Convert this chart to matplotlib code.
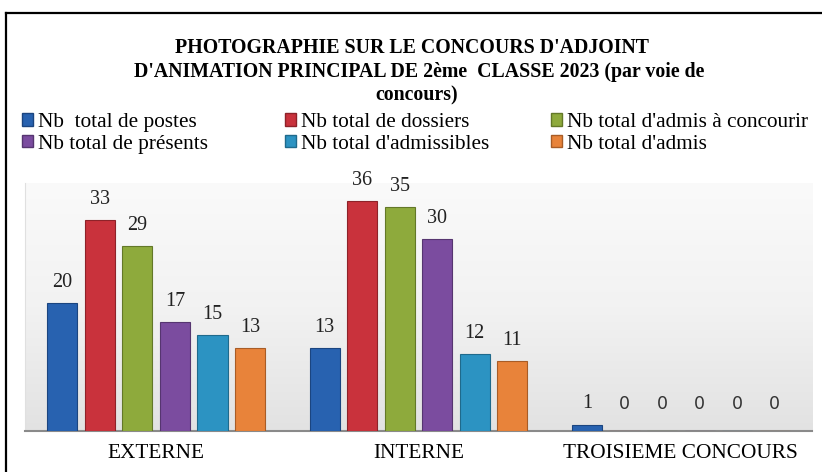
import numpy as np
import matplotlib.pyplot as plt
from matplotlib.lines import Line2D
from matplotlib.patches import Patch
from matplotlib.colors import LinearSegmentedColormap

categories = ['EXTERNE', 'INTERNE', 'TROISIEME CONCOURS']
series = ["Nb  total de postes", "Nb total de dossiers", "Nb total d'admis à concourir",
          "Nb total de présents", "Nb total d'admissibles", "Nb total d'admis"]
postes = [20, 13, 1]
dossiers = [33, 36, 0]
admis_concourir = [29, 35, 0]
presents = [17, 30, 0]
admissibles = [15, 12, 0]
admis = [13, 11, 0]
values = [postes, dossiers, admis_concourir, presents, admissibles, admis]

colors = ['#2862b0', '#c9323c', '#8eaa3c', '#7b4c9f', '#2c93c2', '#e8833a']
edges = ['#1b4580', '#8e2229', '#637828', '#563570', '#1f6a8c', '#a85c26']

serif = 'Liberation Serif'
plt.rcParams['font.family'] = serif

fig = plt.figure(figsize=(8.22, 4.72), dpi=100)
W, H = 822, 472
ax = fig.add_axes([25 / W, (H - 431) / H, (812 - 25) / W, (431 - 183) / H])

# fond grisé en dégradé (clair en haut, gris en bas)
fond = LinearSegmentedColormap.from_list('fond', ['#fafafa', '#f2f2f2', '#e2e2e2'])
grad = np.linspace(0, 1, 256).reshape(-1, 1)
ax.imshow(grad, extent=[-0.5, 2.5, 0, 38.8], aspect='auto', cmap=fond,
          zorder=0, origin='upper')

x = np.arange(len(categories))
pitch = 0.143
width = 0.115
for i, vals in enumerate(values):
    off = (i - 2.5) * pitch
    bars = ax.bar(x + off, vals, width, color=colors[i], edgecolor=edges[i],
                  linewidth=0.8, zorder=3, label=series[i])
    texts = ax.bar_label(bars, padding=8, fontsize=14.5, family=serif, color='#222222')
    for t, v in zip(texts, vals):
        if v == 0:
            t.set_family('DejaVu Sans')
            t.set_fontsize(12.5)
            t.set_color('#333333')
            t.xyann = (0, 13)

ax.set_xlim(-0.5, 2.5)
ax.set_ylim(0, 38.8)
ax.set_xticks(x)
ax.set_xticklabels(categories, fontsize=15.3)
ax.tick_params(axis='x', length=0, pad=9)
ax.set_yticks([])
for s in ['top', 'right']:
    ax.spines[s].set_visible(False)
ax.spines['left'].set_color('#e0e0e0')
ax.spines['bottom'].set_color('#8a8a8a')
ax.spines['bottom'].set_linewidth(1.5)

# titre
fig.text(412 / W, 1 - 48 / H, "PHOTOGRAPHIE SUR LE CONCOURS D'ADJOINT",
         ha='center', va='center', fontsize=14.3, fontweight='bold')
fig.text(419 / W, 1 - 72 / H, "D'ANIMATION PRINCIPAL DE 2ème  CLASSE 2023 (par voie de",
         ha='center', va='center', fontsize=14.3, fontweight='bold')
fig.text(417 / W, 1 - 95 / H, "concours)", ha='center', va='center',
         fontsize=14.3, fontweight='bold')

# légende en trois colonnes
handles = [Patch(facecolor=colors[i], edgecolor=edges[i]) for i in range(6)]
for col, xpos in enumerate([22, 285, 551]):
    idx = [col, col + 3]
    fig.legend([handles[j] for j in idx], [series[j] for j in idx],
               loc='upper left', bbox_to_anchor=(xpos / W, 1 - 113 / H),
               frameon=False, fontsize=15.3, handlelength=0.5, handleheight=0.5,
               handletextpad=0.25, labelspacing=0.12, borderaxespad=0, borderpad=0)

# cadre
fig.add_artist(Line2D([6 / W, 1], [1 - 13 / H, 1 - 13 / H], color='black', lw=1.6,
                      transform=fig.transFigure))
fig.add_artist(Line2D([6 / W, 6 / W], [0, 1 - 13 / H], color='black', lw=1.6,
                      transform=fig.transFigure))

fig.savefig('out.png', dpi=100)
